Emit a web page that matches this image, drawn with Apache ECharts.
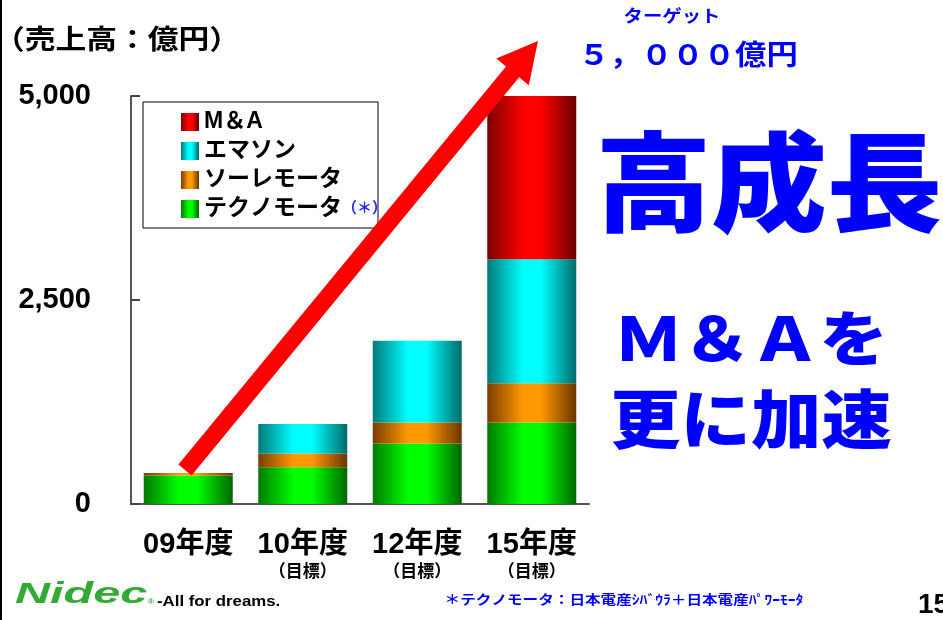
<!DOCTYPE html>
<html>
<head>
<meta charset="utf-8">
<script src="https://cdn.jsdelivr.net/npm/echarts@6/dist/echarts.min.js"></script>
<style>
html, body { margin: 0; padding: 0; background: #fff; }
#chart { width: 943px; height: 620px; }
</style>
</head>
<body>
<div id="chart"></div>
<script>
// 売上高（億円）
var categories = ['09年度', '10年度', '12年度', '15年度'];
var subLabels = ['', '（目標）', '（目標）', '（目標）'];
var techno = [350, 450, 740, 1000];
var sole = [30, 170, 260, 480];
var emerson = [0, 360, 1000, 1520];
var ma = [0, 0, 0, 2000];
var yMax = 5000;
var yStep = 2500;

var jp = "'Liberation Sans', 'Noto Sans CJK JP', sans-serif";
var blue = '#0000ff';

var myChart = echarts.init(document.getElementById('chart'));

var grad = function(dark, bright, darker){
    return new echarts.graphic.LinearGradient(0, 0, 1, 0, [
        {offset: 0, color: dark},
        {offset: 0.4, color: bright},
        {offset: 0.6, color: bright},
        {offset: 1, color: darker}
    ]);
};

var bar = function(name, data, color){
    return {
        name: name,
        type: 'bar',
        stack: 'total',
        barWidth: 89,
        data: data,
        itemStyle: {color: color},
        emphasis: {disabled: true}
    };
};

// 矢印（注釈）
var arrowPoints = function(s, t, w, h, hl){
    var dx = t[0] - s[0], dy = t[1] - s[1];
    var len = Math.sqrt(dx * dx + dy * dy);
    var ux = dx / len, uy = dy / len;
    var nx = -uy, ny = ux;
    var bx = t[0] - ux * hl, by = t[1] - uy * hl;
    return [
        [s[0] + nx * w, s[1] + ny * w],
        [bx + nx * w, by + ny * w],
        [bx + nx * h, by + ny * h],
        [t[0], t[1]],
        [bx - nx * h, by - ny * h],
        [bx - nx * w, by - ny * w],
        [s[0] - nx * w, s[1] - ny * w]
    ];
};

var txt = function(x, y, text, size, color, sx, align, weight){
    return {
        type: 'text', x: x, y: y, scaleX: sx || 1, z: 100,
        style: {
            text: text, fill: color, fontSize: size, fontWeight: weight || 'bold',
            fontFamily: jp, align: align || 'center', verticalAlign: 'middle'
        }
    };
};

var option = {
    animation: false,
    grid: {left: 131, right: 354, top: 96, bottom: 116},
    legend: {
        orient: 'vertical',
        left: 181,
        top: 110,
        padding: 0,
        itemWidth: 18,
        itemHeight: 18,
        itemGap: 5,
        icon: 'rect',
        data: ['M＆A', 'エマソン', 'ソーレモータ', 'テクノモータ'],
        formatter: function(name){
            return name == 'テクノモータ' ? name + '{s|（＊）}' : name;
        },
        textStyle: {
            fontSize: 23, fontWeight: 'bold', color: '#000', fontFamily: jp, lineHeight: 24,
            rich: {s: {fontSize: 15, fontWeight: 'bold', color: '#2222ff', fontFamily: jp}}
        }
    },
    xAxis: {
        type: 'category',
        data: categories,
        axisLine: {lineStyle: {color: '#555', width: 2}},
        axisTick: {inside: true, length: 10, lineStyle: {color: '#444', width: 2}},
        axisLabel: {
            margin: 26,
            interval: 0,
            formatter: function(v, i){
                return subLabels[i] ? '{a|' + v + '}\n{b|' + subLabels[i] + '}' : '{a|' + v + '}';
            },
            rich: {
                a: {fontSize: 29, fontWeight: 'bold', color: '#000', fontFamily: jp, lineHeight: 30},
                b: {fontSize: 17, fontWeight: 'bold', color: '#000', fontFamily: jp, lineHeight: 24}
            }
        }
    },
    yAxis: {
        type: 'value',
        min: 0,
        max: yMax,
        interval: yStep,
        axisLine: {show: true, lineStyle: {color: '#555', width: 2}},
        axisTick: {show: true, inside: true, length: 9, lineStyle: {color: '#444', width: 2}},
        splitLine: {show: false},
        axisLabel: {
            margin: 40,
            fontSize: 29, fontWeight: 'bold', color: '#000', fontFamily: jp,
            formatter: function(v){ return v.toLocaleString('en-US'); }
        }
    },
    series: [
        bar('テクノモータ', techno, grad('#007a00', '#00ff00', '#006600')),
        bar('ソーレモータ', sole, grad('#7a3d00', '#ff9900', '#6a3500')),
        bar('エマソン', emerson, grad('#007a7a', '#00ffff', '#006a6a')),
        bar('M＆A', ma, grad('#7a0000', '#ff0000', '#6a0000'))
    ],
    graphic: [
        {type: 'line', z: 100, shape: {x1: 1, y1: 0, x2: 1, y2: 620}, style: {stroke: '#000', lineWidth: 2}},
        {type: 'rect', z: -1, shape: {x: 143, y: 102, width: 235, height: 126}, style: {fill: '#fff', stroke: '#000', lineWidth: 1}},
        {type: 'polygon', z: 90, shape: {points: arrowPoints([185, 470], [538, 41], 8.5, 21, 40)}, style: {fill: '#ff0000'}},
        txt(117, 42, '（売上高：億円）', 27, '#000', 1.14),
        txt(672, 17, 'ターゲット', 17, blue, 1.14),
        txt(688, 57, '５，０００億円', 28, blue, 1.12),
        txt(769, 193, '高成長', 108, blue, 1.07, 'center', 900),
        txt(751, 344, 'Ｍ＆Ａを', 60, blue, 1.14, 'center', 900),
        txt(751, 425, '更に加速', 64, blue, 1.1, 'center', 900),
        txt(624, 600, '＊テクノモータ：日本電産ｼﾊﾞｳﾗ＋日本電産ﾊﾟﾜｰﾓｰﾀ', 13, blue, 1.2),
        txt(918, 605, '15', 28, '#000', 1, 'left'),
        {
            type: 'text', x: 15, y: 595, scaleX: 1.62, z: 100,
            style: {text: 'Nidec', fill: '#33aa33', fontSize: 30, fontWeight: 900, fontStyle: 'italic',
                    fontFamily: "'Liberation Sans', sans-serif", align: 'left', verticalAlign: 'middle'}
        },
        txt(148, 602, '®', 8, '#33aa33', 1, 'left'),
        {
            type: 'text', x: 157, y: 602, scaleX: 1.12, z: 100,
            style: {text: '-All for dreams.', fill: '#000', fontSize: 15, fontWeight: 'bold',
                    fontFamily: "'Liberation Sans Narrow', 'Liberation Sans', sans-serif",
                    align: 'left', verticalAlign: 'middle'}
        }
    ]
};

myChart.setOption(option);
</script>
</body>
</html>
